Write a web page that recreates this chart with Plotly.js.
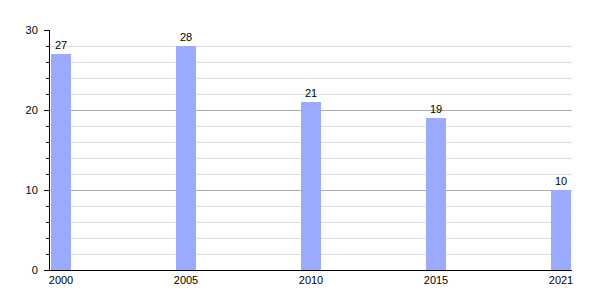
<!DOCTYPE html>
<html>
<head>
<meta charset="utf-8">
<script src="https://cdn.plot.ly/plotly-3.0.1.min.js"></script>
<style>html,body{margin:0;padding:0;background:#fff}#chart{width:600px;height:300px}</style>
</head>
<body>
<div id="chart"></div>
<script>
const years = ["2000", "2005", "2010", "2015", "2021"];
const values = [27, 28, 21, 19, 10];
const yTicks = [0, 10, 20, 30];

const trace = {
  type: 'bar',
  x: years,
  y: values,
  width: 0.16,
  marker: {color: '#99aaff'},
  text: values.map(String),
  textposition: 'outside',
  cliponaxis: false,
  textfont: {family: 'Liberation Sans, Arial, sans-serif', size: 11, color: '#000'},
  hoverinfo: 'none'
};

const layout = {
  width: 600, height: 300,
  margin: {l: 50, r: 28, t: 30, b: 30},
  paper_bgcolor: '#fff', plot_bgcolor: '#fff',
  showlegend: false,
  font: {family: 'Liberation Sans, Arial, sans-serif', size: 11, color: '#000'},
  xaxis: {
    type: 'category',
    range: [-0.088, 4.088],
    showline: true, linecolor: '#000', linewidth: 1,
    showgrid: false, ticks: '', zeroline: false,
    tickfont: {size: 11, color: '#000'}
  },
  yaxis: {
    range: [0, 30],
    tickvals: yTicks,
    showline: true, linecolor: '#000', linewidth: 1,
    ticks: 'outside', ticklen: 5, tickcolor: '#000',
    ticklabelstandoff: 4,
    showgrid: true, gridcolor: '#aaaaaa', gridwidth: 1,
    zeroline: false,
    minor: {dtick: 2, showgrid: true, gridcolor: '#dddddd', gridwidth: 1, ticks: 'outside', ticklen: 3, tickcolor: '#000'},
    tickfont: {size: 11, color: '#000'}
  }
};

Plotly.newPlot('chart', [trace], layout, {staticPlot: true, displayModeBar: false});
</script>
</body>
</html>
